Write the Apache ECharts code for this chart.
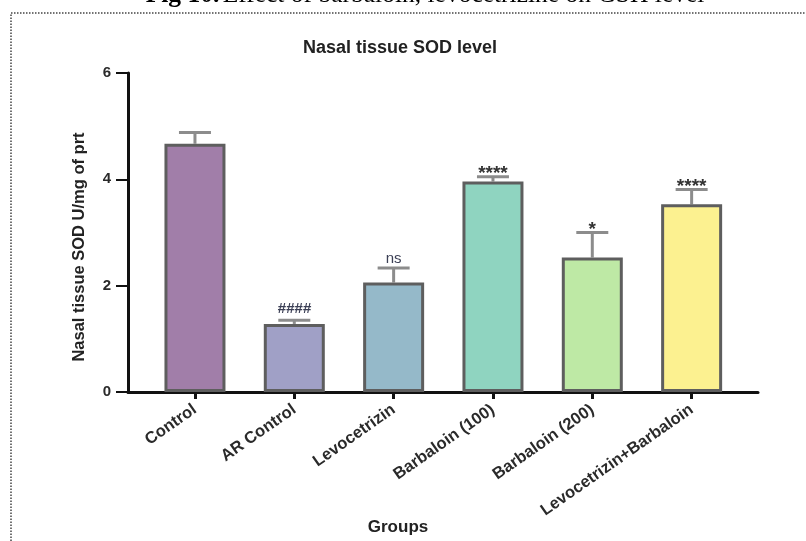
<!DOCTYPE html>
<html>
<head>
<meta charset="utf-8">
<script src="https://cdn.jsdelivr.net/npm/echarts@6/dist/echarts.min.js"></script>
<style>
  html, body { margin: 0; padding: 0; background: #fff; }
  #chart { width: 806px; height: 541px; }
</style>
</head>
<body>
<div id="chart"></div>
<script>
// Nasal tissue SOD level per treatment group (mean and upper SEM)
const groups = ['Control', 'AR Control', 'Levocetrizin', 'Barbaloin (100)', 'Barbaloin (200)', 'Levocetrizin+Barbaloin'];
const sodMean = [4.67, 1.28, 2.06, 3.96, 2.53, 3.53];
const sodSem = [0.21, 0.07, 0.27, 0.09, 0.47, 0.28];
const marks = ['', '####', 'ns', '****', '*', '****'];
const barColors = ['#a17ea9', '#a0a0c6', '#95b9c9', '#8fd4c0', '#bee9a5', '#fcf190'];
const yTicks = [0, 2, 4, 6];

const FONT = '"Liberation Sans", Arial, sans-serif';
const chart = echarts.init(document.getElementById('chart'));

const option = {
  animation: false,
  backgroundColor: '#ffffff',
  grid: [
    // frame grid: carries the axis lines
    { left: 128, right: 48, top: 73, bottom: 149, containLabel: false },
    // data grid: bars sit inside the wider axis frame
    { left: 145.3, right: 64.7, top: 73, bottom: 149, containLabel: false }
  ],
  xAxis: [
    {
      gridIndex: 0, type: 'value', min: 0, max: 1,
      axisLine: { show: true, onZero: false, lineStyle: { color: '#111', width: 3 } },
      axisTick: { show: false }, axisLabel: { show: false }, splitLine: { show: false }
    },
    {
      gridIndex: 1, type: 'category', data: groups,
      axisLine: { show: false },
      axisTick: { show: true, alignWithLabel: true, length: 7, lineStyle: { color: '#111', width: 3 } },
      axisLabel: {
        rotate: 35, interval: 0, margin: 16,
        fontFamily: FONT, fontWeight: 'bold', fontSize: 16.5, color: '#2a2a2a'
      },
      splitLine: { show: false }
    }
  ],
  yAxis: [
    {
      gridIndex: 0, type: 'value', min: 0, max: 6, interval: 2,
      axisLine: { show: true, lineStyle: { color: '#111', width: 3 } },
      axisTick: { show: true, length: 12, lineStyle: { color: '#111', width: 2 } },
      axisLabel: {
        margin: 17, fontFamily: FONT, fontWeight: 'bold', fontSize: 15, color: '#2a2a2a',
        formatter: v => (yTicks.indexOf(v) >= 0 ? String(v) : '')
      },
      splitLine: { show: false }
    },
    {
      gridIndex: 1, type: 'value', min: 0, max: 6, interval: 2, show: false
    }
  ],
  title: {
    text: 'Nasal tissue SOD level',
    left: 395, top: 34, textAlign: 'center',
    textStyle: { fontFamily: FONT, fontWeight: 'bold', fontSize: 18, color: '#222' }
  },
  graphic: [
    {
      type: 'text', z: 10,
      style: {
        x: 425, y: 8, align: 'center', verticalAlign: 'bottom',
        rich: {
          b: { fontFamily: '"Liberation Serif", serif', fontWeight: 'bold', fontSize: 25.5, fill: '#000' },
          n: { fontFamily: '"Liberation Serif", serif', fontSize: 25.5, fill: '#000' }
        },
        text: '{b|Fig 10.} {n|Effect of barbaloin, levocetrizine on GSH level}'
      }
    },
    {
      type: 'rect', z: 0,
      shape: { x: 11, y: 13, width: 820, height: 560 },
      style: { fill: 'none', stroke: '#444', lineWidth: 1.5, lineDash: [1.5, 1.5] }
    },
    {
      type: 'text', z: 10,
      style: {
        x: 398, y: 527, align: 'center', verticalAlign: 'middle',
        text: 'Groups', fontFamily: FONT, fontWeight: 'bold', fontSize: 17, fill: '#222'
      }
    },
    {
      type: 'text', z: 10, rotation: Math.PI / 2, x: 79, y: 247,
      style: {
        x: 0, y: 0, align: 'center', verticalAlign: 'middle',
        text: 'Nasal tissue SOD U/mg of prt', fontFamily: FONT, fontWeight: 'bold', fontSize: 16.5, fill: '#222'
      }
    }
  ],
  series: [
    {
      type: 'bar', xAxisIndex: 1, yAxisIndex: 1,
      data: sodMean.map((v, i) => ({
        value: v,
        itemStyle: { color: barColors[i], borderColor: '#5e5e5e', borderWidth: 3 }
      })),
      barWidth: 61, z: 3
    },
    {
      type: 'custom', xAxisIndex: 1, yAxisIndex: 1, z: 2,
      data: sodMean.map((v, i) => [i, v, v + sodSem[i], marks[i]]),
      renderItem: (params, api) => {
        const x = api.value(0);
        const base = api.coord([x, api.value(1)]);
        const top = api.coord([x, api.value(2)]);
        const half = 16;
        const children = [
          { type: 'line', shape: { x1: top[0], y1: base[1], x2: top[0], y2: top[1] },
            style: { stroke: '#8c8c8c', lineWidth: 3 } },
          { type: 'line', shape: { x1: top[0] - half, y1: top[1], x2: top[0] + half, y2: top[1] },
            style: { stroke: '#8c8c8c', lineWidth: 3 } }
        ];
        const mark = api.value(3);
        if (mark) {
          const star = mark.indexOf('*') >= 0;
          children.push({
            type: 'text',
            style: star ? {
              x: top[0], y: top[1] - 3, align: 'center', verticalAlign: 'middle',
              text: mark, fontFamily: FONT, fontWeight: 'bold', fontSize: 19,
              fill: '#333'
            } : {
              x: top[0], y: top[1] - (mark === 'ns' ? 2 : 4), align: 'center', verticalAlign: 'bottom',
              text: mark, fontFamily: FONT,
              fontWeight: mark === '####' ? 'bold' : 'normal',
              fontStyle: mark === '####' ? 'italic' : 'normal',
              fontSize: 15, fill: '#3b3f55'
            }
          });
        }
        return { type: 'group', children };
      }
    }
  ]
};

chart.setOption(option);
</script>
</body>
</html>
